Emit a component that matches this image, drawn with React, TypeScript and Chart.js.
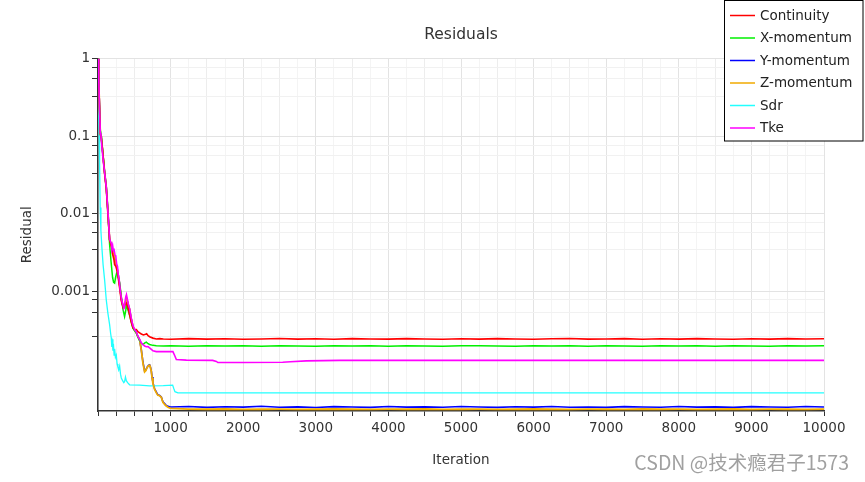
import React, { useEffect, useRef } from 'react';
import { Chart, registerables } from 'chart.js';

Chart.register(...registerables);

const seriesNames = ['Continuity', 'X-momentum', 'Y-momentum', 'Z-momentum', 'Sdr', 'Tke'];
const seriesColors = ['#ff0000', '#00f000', '#0000ff', '#f0aa00', '#22ffff', '#ff00ff'];

const xTickLabels = ['1000', '2000', '3000', '4000', '5000', '6000', '7000', '8000', '9000', '10000'];
const yTickLabels = ['1', '0.1', '0.01', '0.001'];
const yMajorTicks = [1, 0.1, 0.01, 0.001];
const yMinorTicks = [0.76, 0.55, 0.32, 0.076, 0.056, 0.033, 0.0076, 0.0057, 0.0034, 0.00077, 0.00053, 0.00026];

const tailIters = [1000, 1250, 1500, 1750, 2000, 2250, 2500, 2750, 3000, 3250, 3500, 3750, 4000, 4250, 4500, 4750, 5000, 5250, 5500, 5750, 6000, 6250, 6500, 6750, 7000, 7250, 7500, 7750, 8000, 8250, 8500, 8750, 9000, 9250, 9500, 9750, 10000];

const continuityHead: [number, number][] = [
  [1, 1], [10, 0.55], [20, 0.25], [32, 0.105], [45, 0.095], [60, 0.07], [91, 0.033], [114, 0.021], [136, 0.010], [160, 0.0046],
  [183, 0.0038], [201, 0.0030], [218, 0.0026], [229, 0.0022], [245, 0.0021], [258, 0.0019], [274, 0.0016], [298, 0.0011], [321, 0.00075],
  [345, 0.00062], [366, 0.00066], [390, 0.00070], [408, 0.00064], [435, 0.00050], [458, 0.00040], [481, 0.00034], [505, 0.00032],
  [528, 0.00032], [550, 0.00030], [573, 0.00029], [597, 0.00028], [625, 0.000272], [655, 0.000278], [670, 0.000282], [690, 0.000266],
  [711, 0.000258], [757, 0.000248], [803, 0.000242], [850, 0.000244], [900, 0.000241],
];
const continuityTail = [0.000240, 0.000244, 0.000241, 0.000243, 0.000240, 0.000242, 0.000245, 0.000241, 0.000243, 0.000240,
  0.000244, 0.000242, 0.000241, 0.000244, 0.000242, 0.000240, 0.000243, 0.000241, 0.000244, 0.000242,
  0.000240, 0.000243, 0.000245, 0.000241, 0.000242, 0.000244, 0.000240, 0.000243, 0.000241, 0.000244,
  0.000242, 0.000240, 0.000243, 0.000241, 0.000244, 0.000242, 0.000243];

const xMomHead: [number, number][] = [
  [1, 1], [10, 0.55], [20, 0.25], [32, 0.12], [45, 0.1], [60, 0.07], [91, 0.034], [114, 0.022], [136, 0.011], [160, 0.0040],
  [180, 0.0024], [201, 0.0015], [215, 0.0013], [229, 0.00127], [242, 0.0015], [256, 0.0017], [274, 0.0016], [298, 0.0013],
  [321, 0.00085], [345, 0.00058], [366, 0.00047], [380, 0.00055], [394, 0.00066], [412, 0.00058], [435, 0.00049], [458, 0.00040],
  [481, 0.00033], [505, 0.00031], [528, 0.00029], [550, 0.000255], [573, 0.00023], [597, 0.000215], [619, 0.000205], [645, 0.000215],
  [666, 0.00022], [690, 0.00021], [711, 0.000205], [757, 0.0002], [803, 0.000197], [900, 0.000196],
];
const xMomTail = [0.000197, 0.000195, 0.000197, 0.000196, 0.000198, 0.000195, 0.000197, 0.000196, 0.000195, 0.000197,
  0.000196, 0.000198, 0.000195, 0.000197, 0.000196, 0.000195, 0.000197, 0.000198, 0.000196, 0.000195,
  0.000197, 0.000196, 0.000198, 0.000195, 0.000197, 0.000196, 0.000195, 0.000197, 0.000196, 0.000198,
  0.000195, 0.000197, 0.000196, 0.000195, 0.000197, 0.000196, 0.000197];

const yMomHead: [number, number][] = [
  [1, 1], [10, 0.55], [20, 0.25], [32, 0.11], [45, 0.1], [60, 0.07], [91, 0.034], [114, 0.022], [136, 0.011], [160, 0.0046],
  [183, 0.0040], [201, 0.0034], [229, 0.0026], [258, 0.0021], [280, 0.0016], [298, 0.0012], [321, 0.00080], [345, 0.00064],
  [366, 0.00062], [390, 0.00082], [408, 0.00072], [435, 0.00058], [458, 0.00044], [481, 0.00035], [505, 0.00031], [528, 0.00029],
  [550, 0.00026], [573, 0.000235], [597, 0.000175], [619, 0.000122], [642, 0.000093], [660, 0.0000965], [675, 0.000104],
  [695, 0.00011], [711, 0.000112], [722, 0.000105], [734, 0.000094], [745, 0.000078], [757, 0.000066], [780, 0.000055],
  [808, 0.000049], [825, 0.000046], [849, 0.0000452], [872, 0.0000432], [894, 0.0000375], [932, 0.0000342], [963, 0.0000327],
];
const yMomTail = [0.0000320, 0.0000326, 0.0000317, 0.0000323, 0.0000319, 0.0000327, 0.0000318, 0.0000322, 0.0000316, 0.0000324,
  0.0000320, 0.0000317, 0.0000325, 0.0000319, 0.0000322, 0.0000318, 0.0000326, 0.0000320, 0.0000317, 0.0000323,
  0.0000319, 0.0000325, 0.0000318, 0.0000321, 0.0000317, 0.0000324, 0.0000320, 0.0000318, 0.0000326, 0.0000319,
  0.0000322, 0.0000317, 0.0000324, 0.0000320, 0.0000318, 0.0000325, 0.0000321];

const zMomHead: [number, number][] = [
  [1, 1], [10, 0.55], [20, 0.25], [32, 0.11], [45, 0.1], [60, 0.07], [91, 0.034], [114, 0.022], [136, 0.011], [160, 0.0046],
  [183, 0.0040], [201, 0.0034], [229, 0.0026], [258, 0.0021], [280, 0.0016], [298, 0.0012], [321, 0.00080], [345, 0.00064],
  [366, 0.00062], [390, 0.00082], [408, 0.00072], [435, 0.00058], [458, 0.00044], [481, 0.00035], [505, 0.00031], [528, 0.00029],
  [550, 0.00026], [573, 0.000235], [597, 0.000172], [619, 0.000118], [642, 0.000091], [660, 0.000095], [675, 0.000103],
  [695, 0.000109], [711, 0.000111], [722, 0.000104], [734, 0.000092], [745, 0.000076], [757, 0.000064], [780, 0.000054],
  [808, 0.000048], [825, 0.0000455], [849, 0.0000448], [872, 0.0000428], [894, 0.0000368], [932, 0.0000335], [963, 0.0000318],
];
const zMomTail = [0.0000308, 0.0000301, 0.0000300, 0.0000302, 0.0000299, 0.0000300, 0.0000301, 0.0000299, 0.0000300, 0.0000302,
  0.0000300, 0.0000299, 0.0000301, 0.0000300, 0.0000302, 0.0000299, 0.0000300, 0.0000301, 0.0000299, 0.0000300,
  0.0000302, 0.0000300, 0.0000299, 0.0000301, 0.0000300, 0.0000299, 0.0000302, 0.0000300, 0.0000301, 0.0000299,
  0.0000300, 0.0000302, 0.0000299, 0.0000301, 0.0000300, 0.0000299, 0.0000301];

const sdrPoints: [number, number][] = [
  [1, 1], [8, 0.4], [15, 0.12], [22, 0.045], [30, 0.012], [40, 0.006], [55, 0.0035], [70, 0.0022], [91, 0.0014], [114, 0.00077],
  [136, 0.00052], [160, 0.00037], [175, 0.00028], [183, 0.00025], [190, 0.00019], [197, 0.00024], [205, 0.00017], [212, 0.00021],
  [222, 0.00015], [229, 0.00018], [240, 0.00014], [252, 0.00015], [263, 0.000115], [274, 0.000105], [285, 0.000097], [298, 0.000108],
  [310, 0.000085], [321, 0.000076], [339, 0.000070], [355, 0.000066], [366, 0.000068], [378, 0.000078], [390, 0.00007], [408, 0.000066],
  [435, 0.000062], [573, 0.0000615], [711, 0.00006], [900, 0.0000605], [1028, 0.0000615], [1045, 0.000055], [1060, 0.0000505],
  [1101, 0.0000487], [3000, 0.0000488], [6000, 0.0000487], [10000, 0.0000488],
];

const tkePoints: [number, number][] = [
  [1, 1], [10, 0.55], [20, 0.25], [32, 0.11], [40, 0.105], [55, 0.07], [75, 0.045], [91, 0.034], [114, 0.022], [136, 0.011],
  [160, 0.0047], [172, 0.0044], [183, 0.0041], [192, 0.0036], [201, 0.0039], [212, 0.0033], [222, 0.0034], [235, 0.0029],
  [245, 0.0028], [258, 0.0022], [268, 0.0021], [280, 0.0016], [292, 0.0014], [305, 0.00105], [321, 0.00082], [340, 0.00068],
  [355, 0.00060], [366, 0.00064], [380, 0.00082], [392, 0.00090], [408, 0.00076], [420, 0.00066], [435, 0.00060], [458, 0.00045],
  [481, 0.00036], [505, 0.00032], [528, 0.00030], [550, 0.00026], [573, 0.00024], [597, 0.000215], [620, 0.000205], [642, 0.000196],
  [666, 0.000192], [690, 0.000193], [711, 0.000185], [735, 0.000177], [757, 0.00017], [803, 0.000166], [1032, 0.000166],
  [1056, 0.000148], [1079, 0.000131], [1217, 0.000129], [1579, 0.000128], [1630, 0.000124], [1652, 0.00012], [2000, 0.00012],
  [2544, 0.000121], [2650, 0.000123], [2870, 0.000126], [3329, 0.000128], [6000, 0.000128], [10000, 0.000128],
];

const watermark = 'CSDN @技术瘾君子1573';

function toPts(head: [number, number][], tailValues?: number[]) {
  const pts = head.map(([x, y]) => ({ x, y }));
  if (tailValues) tailValues.forEach((v, i) => pts.push({ x: tailIters[i], y: v }));
  return pts;
}

const isMajorY = (v: number) => yMajorTicks.some((m) => Math.abs(v - m) / m < 1e-6);

const overlayPlugin = {
  id: 'overlay',
  afterDraw(chart: any) {
    const ctx = chart.ctx as CanvasRenderingContext2D;
    ctx.save();
    ctx.fillStyle = '#ffffff';
    ctx.fillRect(724, 0, 139.5, 141);
    ctx.strokeStyle = '#000000';
    ctx.lineWidth = 1;
    ctx.strokeRect(724.5, 0.5, 138.5, 140.5);
    ctx.font = '13.5px "DejaVu Sans", sans-serif';
    ctx.textBaseline = 'middle';
    ctx.textAlign = 'left';
    chart.data.datasets.forEach((ds: any, i: number) => {
      const y = 15.5 + i * 22.5;
      ctx.strokeStyle = ds.borderColor;
      ctx.lineWidth = 1.5;
      ctx.beginPath();
      ctx.moveTo(730, y);
      ctx.lineTo(755, y);
      ctx.stroke();
      ctx.fillStyle = '#222222';
      ctx.fillText(ds.label, 760, y + 0.5);
    });
    ctx.font = '19.5px "Noto Sans CJK SC", sans-serif';
    ctx.fillStyle = '#a0a0a0';
    ctx.textAlign = 'right';
    ctx.fillText(watermark, 849, 463);
    ctx.restore();
  },
};

export default function App() {
  const ref = useRef<HTMLCanvasElement>(null);
  useEffect(() => {
    document.body.style.margin = '0';
    const heads = [continuityHead, xMomHead, yMomHead, zMomHead, sdrPoints, tkePoints];
    const tails = [continuityTail, xMomTail, yMomTail, zMomTail, undefined, undefined];
    const orders = [1, 2, 5, 3, 4, 0];
    const widths = [1.6, 1.5, 1.6, 1.8, 1.3, 1.6];
    Chart.defaults.font.family = '"DejaVu Sans", sans-serif';
    Chart.defaults.color = '#333333';
    const chart = new Chart(ref.current!, {
      type: 'line',
      data: {
        datasets: seriesNames.map((name, i) => ({
          label: name,
          data: toPts(heads[i], tails[i]),
          borderColor: seriesColors[i],
          backgroundColor: seriesColors[i],
          borderWidth: widths[i],
          pointRadius: 0,
          tension: 0,
          order: orders[i],
        })),
      },
      options: {
        animation: false,
        responsive: false,
        devicePixelRatio: 1,
        layout: { padding: { left: 0, right: 41, top: 0, bottom: 0 } },
        plugins: {
          legend: { display: false },
          tooltip: { enabled: false },
          title: {
            display: true,
            text: 'Residuals',
            fullSize: false,
            color: '#333333',
            font: { size: 15.5, weight: 'normal' },
            padding: { top: 26, bottom: 14 },
          },
        },
        scales: {
          x: {
            type: 'linear',
            min: 0,
            max: 10000,
            border: { color: '#333333', width: 1.5 },
            grid: {
              color: (c: any) => {
                const v = c.tick ? c.tick.value : 0;
                if (v % 1000 === 0) return '#e3e3e3';
                if (v % 500 === 0) return '#ededed';
                return '#f4f4f4';
              },
              tickColor: '#333333',
              tickLength: 5,
            },
            ticks: {
              stepSize: 250,
              autoSkip: false,
              maxRotation: 0,
              padding: 4,
              font: { size: 13.5 },
              color: '#333333',
              callback: (v: any) => (xTickLabels.includes(String(v)) ? String(v) : ''),
            },
            title: {
              display: true,
              text: 'Iteration',
              color: '#333333',
              font: { size: 13.5 },
              padding: { top: 0, bottom: 13 },
            },
            afterFit: (s: any) => {
              s.height = 71;
            },
          },
          y: {
            type: 'logarithmic',
            min: 0.00002846,
            max: 1,
            border: { color: '#333333', width: 1.5 },
            grid: {
              color: (c: any) => (c.tick && isMajorY(c.tick.value) ? '#e3e3e3' : '#f1f1f1'),
              tickColor: '#333333',
              tickLength: 6,
            },
            afterBuildTicks: (s: any) => {
              s.ticks = [...yMajorTicks, ...yMinorTicks].sort((a, b) => b - a).map((v) => ({ value: v }));
            },
            ticks: {
              autoSkip: false,
              padding: 2,
              font: { size: 13.5 },
              color: '#333333',
              callback: (v: any) => {
                const idx = yMajorTicks.findIndex((m) => Math.abs(v - m) / m < 1e-6);
                return idx >= 0 ? yTickLabels[idx] : '';
              },
            },
            title: {
              display: true,
              text: 'Residual',
              color: '#333333',
              font: { size: 13.5 },
              padding: { top: 19, bottom: 0 },
            },
            afterFit: (s: any) => {
              s.width = 98;
            },
          },
        },
      },
      plugins: [overlayPlugin],
    });
    return () => chart.destroy();
  }, []);
  return <canvas ref={ref} width={865} height={482} style={{ display: 'block' }} />;
}
